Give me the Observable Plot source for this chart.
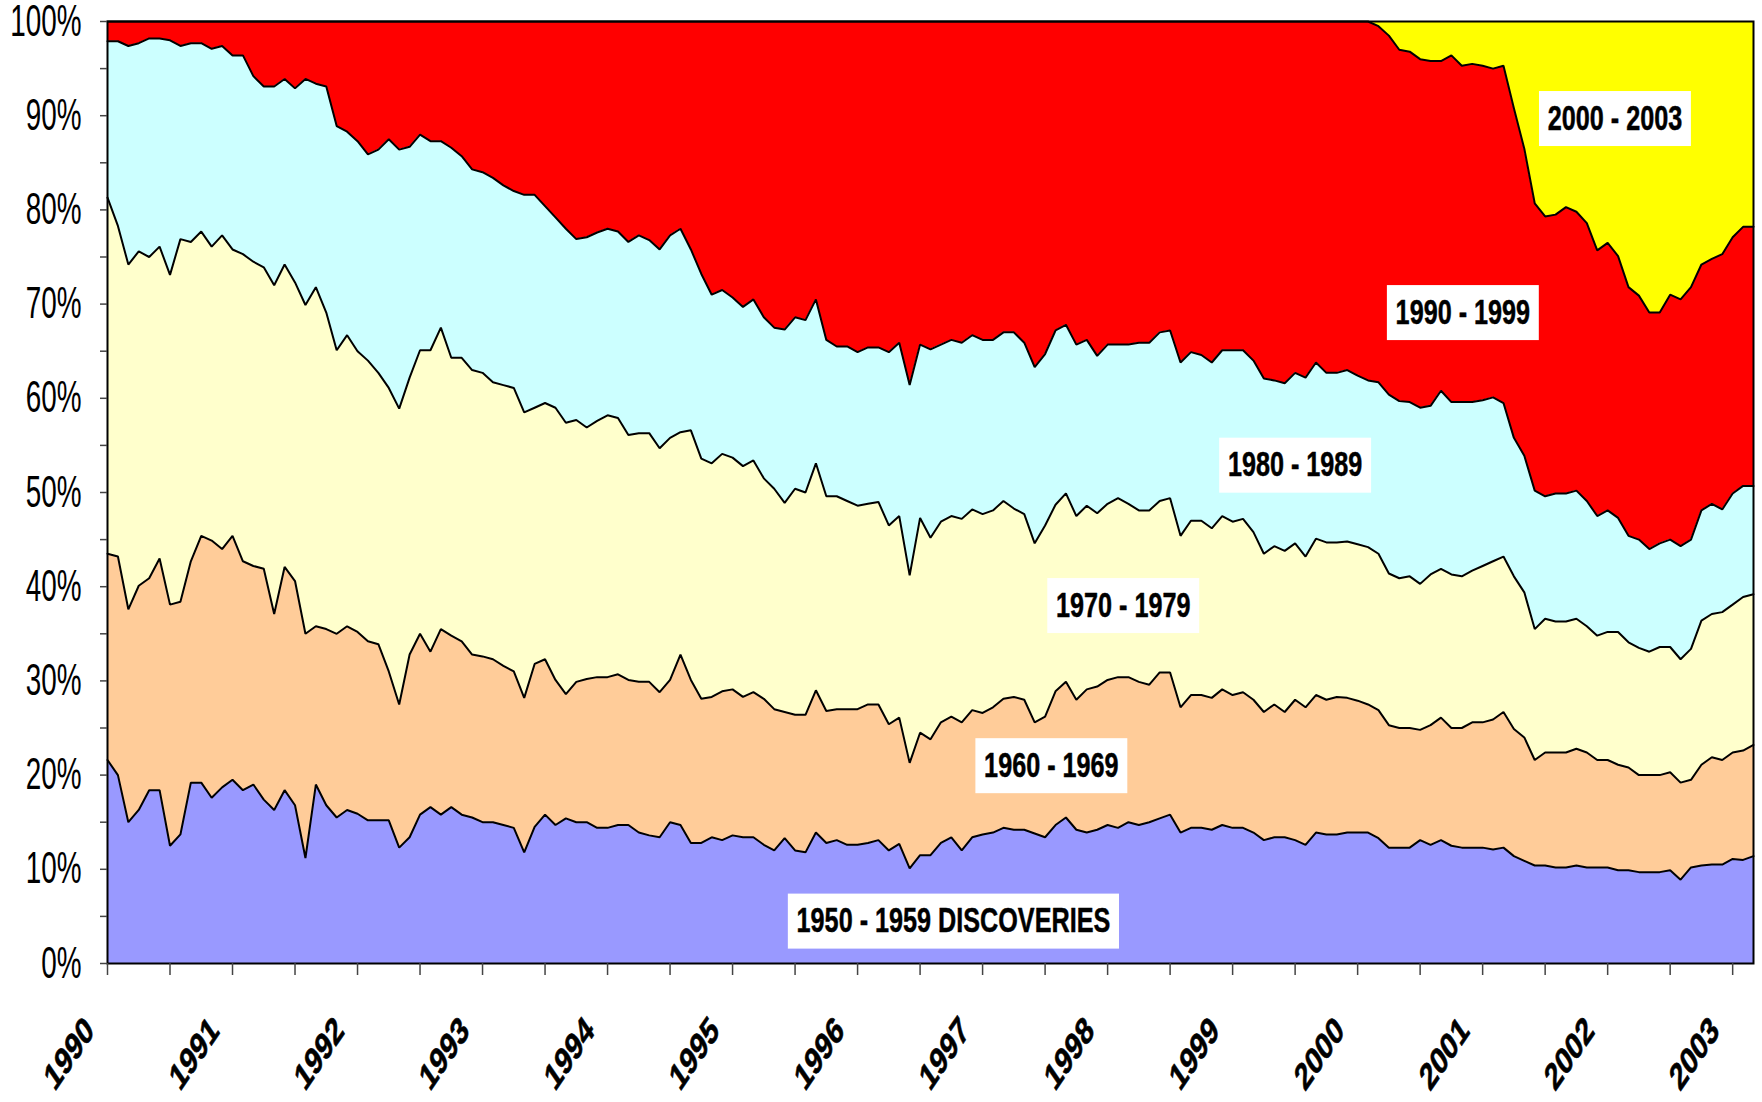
<!DOCTYPE html>
<html>
<head>
<meta charset="utf-8">
<script src="https://cdn.jsdelivr.net/npm/d3@7"></script>
<script src="https://cdn.jsdelivr.net/npm/@observablehq/plot@0.6"></script>
<style>
html, body { margin: 0; padding: 0; background: #ffffff; }
#chart svg { display: block; }
</style>
</head>
<body>
<div id="chart"></div>
<script>
// ---------- data ----------
// monthly observations, January 1990 .. March 2003 (159 months)
const yearLabels = ["1990","1991","1992","1993","1994","1995","1996","1997","1998","1999","2000","2001","2002","2003"];
const yTickLabels = ["0%","10%","20%","30%","40%","50%","60%","70%","80%","90%","100%"];
const bandLabels = ["1950 - 1959 DISCOVERIES","1960 - 1969","1970 - 1979","1980 - 1989","1990 - 1999","2000 - 2003"];

// cumulative share (%) at the upper edge of each discovery-decade band
const cum1950s = [
  21.6,20.0,15.0,16.3,18.4,18.4,12.5,13.7,19.2,19.2,17.6,18.7,19.5,18.4,19.0,17.4,16.3,18.4,16.8,11.2,
  19.0,16.8,15.5,16.3,15.9,15.2,15.2,15.2,12.3,13.4,15.8,16.6,15.8,16.6,15.8,15.5,15.0,15.0,14.7,14.4,
  11.8,14.5,15.8,14.7,15.4,15.0,15.0,14.4,14.4,14.7,14.7,13.9,13.6,13.4,15.0,14.7,12.8,12.8,13.4,13.1,
  13.6,13.4,13.4,12.6,12.0,13.3,12.0,11.8,13.9,12.8,13.1,12.6,12.6,12.8,13.1,12.0,12.7,10.1,11.5,11.5,
  12.8,13.4,12.0,13.4,13.7,13.9,14.4,14.2,14.2,13.8,13.4,14.7,15.5,14.2,13.9,14.2,14.7,14.4,15.0,14.7,
  15.0,15.4,15.8,13.9,14.4,14.4,14.2,14.7,14.4,14.4,13.9,13.1,13.4,13.4,13.1,12.6,13.9,13.7,13.7,13.9,
  13.9,13.9,13.3,12.3,12.3,12.3,13.1,12.6,13.1,12.5,12.3,12.3,12.3,12.1,12.3,11.4,10.9,10.4,10.4,10.2,
  10.2,10.4,10.2,10.2,10.2,9.9,9.9,9.7,9.7,9.7,9.9,8.9,10.2,10.4,10.5,10.5,11.1,11.0,11.4
];
const cum1960s = [
  43.5,43.2,37.6,40.1,40.9,43.0,38.1,38.4,42.7,45.4,44.9,44.0,45.4,42.7,42.2,41.9,37.1,42.1,40.6,35.0,
  35.8,35.5,35.0,35.8,35.2,34.2,33.9,31.0,27.5,32.8,35.0,33.1,35.5,34.8,34.2,32.8,32.6,32.3,31.6,31.0,
  28.2,31.8,32.3,30.1,28.6,29.9,30.2,30.4,30.4,30.7,30.1,29.9,29.9,28.8,30.1,32.8,30.1,28.1,28.3,28.9,
  29.1,28.3,28.8,28.1,27.0,26.7,26.4,26.4,29.0,26.8,27.0,27.0,27.0,27.5,27.5,25.4,26.1,21.3,24.5,23.8,
  25.6,26.2,25.6,26.9,26.6,27.2,28.1,28.3,28.0,25.6,26.2,28.9,29.9,28.0,29.1,29.4,30.1,30.4,30.4,29.9,
  29.6,30.9,30.9,27.2,28.5,28.5,28.2,29.1,28.5,28.8,28.0,26.7,27.5,26.7,28.0,27.2,28.5,28.0,28.3,28.2,
  27.9,27.5,26.9,25.3,25.0,25.0,24.8,25.3,26.1,25.0,25.0,25.6,25.6,25.9,26.7,24.9,24.0,21.6,22.4,22.4,
  22.4,22.8,22.4,21.6,21.6,21.1,20.8,20.0,20.0,20.0,20.3,19.2,19.5,21.1,21.9,21.6,22.4,22.6,23.2
];
const cum1970s = [
  81.3,78.3,74.2,75.6,75.0,76.1,73.1,76.9,76.6,77.7,76.1,77.3,75.8,75.3,74.5,73.9,72.0,74.2,72.3,69.9,
  71.8,69.1,65.1,66.7,65.0,64.0,62.7,61.1,58.9,62.2,65.1,65.1,67.5,64.3,64.3,63.0,62.7,61.7,61.4,61.1,
  58.5,59.0,59.5,59.0,57.4,57.7,56.9,57.6,58.2,57.9,56.1,56.3,56.3,54.7,55.8,56.4,56.6,53.6,53.1,54.1,
  53.7,52.8,53.4,51.5,50.4,48.9,50.4,50.0,53.1,49.6,49.6,49.1,48.6,48.8,49.0,46.5,47.5,41.2,47.3,45.2,
  46.9,47.5,47.2,48.2,47.7,48.1,49.1,48.3,47.7,44.6,46.5,48.7,49.9,47.5,48.6,47.8,48.8,49.4,48.8,48.1,
  48.1,49.1,49.4,45.4,47.0,47.0,46.2,47.5,46.9,47.2,45.8,43.5,44.3,43.8,44.6,43.2,45.1,44.7,44.7,44.8,
  44.5,44.2,43.5,41.4,40.9,41.1,40.3,41.3,41.9,41.3,41.1,41.7,42.2,42.7,43.2,41.1,39.4,35.5,36.6,36.3,
  36.3,36.6,35.8,34.8,35.2,35.2,34.1,33.5,33.1,33.6,33.6,32.3,33.4,36.4,37.1,37.3,38.1,38.9,39.2
];
const cum1980s = [
  97.9,97.9,97.4,97.7,98.2,98.2,98.0,97.4,97.7,97.7,97.1,97.4,96.4,96.4,94.2,93.1,93.1,93.9,92.9,93.9,
  93.4,93.1,88.9,88.3,87.3,85.9,86.4,87.5,86.4,86.7,88.0,87.3,87.3,86.6,85.7,84.3,84.0,83.4,82.6,82.0,
  81.6,81.6,80.4,79.2,78.0,76.9,77.1,77.6,78.0,77.7,76.6,77.3,76.8,75.8,77.3,78.0,75.8,73.2,71.0,71.5,
  70.7,69.7,70.5,68.6,67.5,67.3,68.6,68.3,70.5,66.2,65.5,65.5,64.9,65.4,65.4,64.9,65.9,61.4,65.7,65.2,
  65.7,66.2,65.9,66.7,66.2,66.2,67.0,67.0,65.9,63.3,64.7,67.2,67.8,65.7,66.2,64.5,65.7,65.7,65.7,65.9,
  65.9,67.0,67.2,63.8,64.9,64.6,63.8,65.1,65.1,65.1,64.0,62.1,61.9,61.6,62.7,62.2,63.8,62.7,62.7,63.0,
  62.4,61.9,61.7,60.4,59.7,59.6,59.0,59.2,60.8,59.6,59.6,59.6,59.8,60.1,59.5,55.8,53.9,50.2,49.6,49.9,
  49.9,50.2,49.1,47.5,48.1,47.3,45.4,45.0,44.0,44.6,45.0,44.3,45.0,48.1,48.8,48.2,49.9,50.7,50.7
];
const cum1990s = [
  100,100,100,100,100,100,100,100,100,100,100,100,100,100,100,100,100,100,100,100,
  100,100,100,100,100,100,100,100,100,100,100,100,100,100,100,100,100,100,100,100,
  100,100,100,100,100,100,100,100,100,100,100,100,100,100,100,100,100,100,100,100,
  100,100,100,100,100,100,100,100,100,100,100,100,100,100,100,100,100,100,100,100,
  100,100,100,100,100,100,100,100,100,100,100,100,100,100,100,100,100,100,100,100,
  100,100,100,100,100,100,100,100,100,100,100,100,100,100,100,100,100,100,100,100,
  100,100,99.5,98.5,97.0,96.8,96.0,95.8,95.8,96.4,95.3,95.5,95.3,95.0,95.3,90.8,86.5,80.7,79.3,79.5,
  80.3,79.8,78.6,75.7,76.5,75.1,71.8,70.9,69.1,69.1,71.0,70.5,71.8,74.2,74.8,75.3,77.1,78.2,78.2
];

// ---------- presentation ----------
const bandColors = ["#9999ff","#ffcc99","#ffffcc","#ccffff","#ff0000","#ffff00"];
const labelMonth = [81.2, 90.6, 97.5, 114.0, 130.1, 144.7];   // label centres (month index)
const labelShare = [4.5, 21.0, 38.0, 52.9, 69.1, 89.7];        // label centres (%)
const FONT = "'Liberation Sans', Arial, Helvetica, sans-serif";

const months = d3.range(cum1950s.length);
const floor = months.map(() => 0);
const ceiling = months.map(() => 100);
const edges = [floor, cum1950s, cum1960s, cum1970s, cum1980s, cum1990s, ceiling];

const marks = [];
for (let k = 0; k < 6; k++) {
  marks.push(Plot.areaY(months, {
    x: i => i, y1: i => edges[k][i], y2: i => edges[k + 1][i],
    fill: bandColors[k], curve: "linear"
  }));
}
for (let k = 1; k < 6; k++) {
  marks.push(Plot.lineY(months, {
    x: i => i, y: i => edges[k][i],
    stroke: "black", strokeWidth: 2, strokeLinejoin: "miter", curve: "linear"
  }));
}
marks.push(
  Plot.frame({stroke: "black", strokeWidth: 2}),
  Plot.axisY(d3.range(0, 101, 5), {
    anchor: "left", tickSize: 7, tickPadding: 19, stroke: "#444", strokeWidth: 1.5,
    tickFormat: d => d % 10 ? "" : yTickLabels[d / 10],
    fontSize: 44, label: null
  }),
  Plot.axisX(d3.range(0, 157, 6), {
    anchor: "bottom", tickSize: 12, stroke: "#444", strokeWidth: 1.5,
    tickFormat: () => "", label: null
  }),
  Plot.text(yearLabels, {
    x: (d, j) => j * 12, frameAnchor: "bottom", dx: -12, dy: 69,
    rotate: -45, textAnchor: "end", lineAnchor: "bottom",
    fontSize: 38, fontWeight: "bold", fill: "black", stroke: "black", strokeWidth: 0.7
  }),
  Plot.text(bandLabels, {
    x: (d, j) => labelMonth[j], y: (d, j) => labelShare[j],
    textAnchor: "middle", lineAnchor: "middle",
    fontSize: 35, fontWeight: "bold", fill: "black", stroke: "black", strokeWidth: 0.5
  })
);

const chart = Plot.plot({
  width: 1762, height: 1102,
  marginLeft: 107, marginRight: 9, marginTop: 21, marginBottom: 139,
  style: {fontFamily: FONT, background: "white", color: "black"},
  x: {type: "linear", domain: [0, 158]},
  y: {domain: [0, 100]},
  marks
});
document.getElementById("chart").appendChild(chart);

// ---------- typographic adjustments (narrow lettering as in the original) ----------
const svg = d3.select(chart);
svg.selectAll("text").each(function () {
  const txt = this.textContent;
  const t = this.getAttribute("transform") || "";
  if (yTickLabels.includes(txt)) {
    this.setAttribute("transform", t + " scale(0.634,1)");
  } else if (yearLabels.includes(txt) && /rotate\(-45\)/.test(t)) {
    this.setAttribute("transform", t.replace(/rotate\(-45\)/, "scale(0.68,1) rotate(-45)"));
  } else if (bandLabels.includes(txt)) {
    const m = /translate\(([-\d.e]+)[ ,]+([-\d.e]+)\)/.exec(t);
    const sx = 0.72;
    const len = this.getComputedTextLength() * sx;
    this.setAttribute("transform", t + ` scale(${sx},1)`);
    let cx, cy;
    if (m) { cx = +m[1]; cy = +m[2]; }
    else { cx = +(this.getAttribute("x") || 0); cy = +(this.getAttribute("y") || 0); }
    const w = len + 17.4, h = 55;
    const r = document.createElementNS("http://www.w3.org/2000/svg", "rect");
    r.setAttribute("x", cx - w / 2);
    r.setAttribute("y", cy - h / 2);
    r.setAttribute("width", w);
    r.setAttribute("height", h);
    r.setAttribute("fill", "white");
    r.setAttribute("stroke", "none");
    this.parentNode.insertBefore(r, this);
  }
});
</script>
</body>
</html>
